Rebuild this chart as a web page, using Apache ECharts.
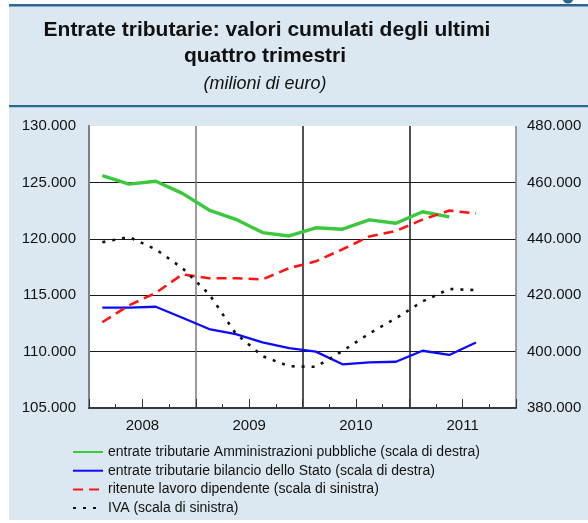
<!DOCTYPE html>
<html>
<head>
<meta charset="utf-8">
<script src="https://cdn.jsdelivr.net/npm/echarts@6/dist/echarts.min.js"></script>
<style>
  html, body { margin: 0; padding: 0; background: #ffffff; }
  #chart { width: 588px; height: 523px; }
</style>
</head>
<body>
<div id="chart"></div>
<script>
// Quarterly observations, 2008 T1 onwards (millions of euro, 4-quarter cumulated)
const quarters = ['2008 T1','2008 T2','2008 T3','2008 T4','2009 T1','2009 T2','2009 T3','2009 T4',
                  '2010 T1','2010 T2','2010 T3','2010 T4','2011 T1','2011 T2','2011 T3'];
const years = ['2008', '2009', '2010', '2011'];

// right-hand scale
const entrateAP = [462400, 459400, 460400, 456100, 450200, 446900, 442200, 441000,
                   443900, 443400, 446700, 445500, 449600, 447800];
const entrateStato = [415600, 415600, 415900, 412000, 408000, 406200, 403300, 401200,
                      400000, 395500, 396200, 396400, 400300, 398800, 403200];
// left-hand scale
const ritenute = [112600, 114100, 115200, 116850, 116500, 116500, 116400, 117400,
                  118000, 119070, 120200, 120700, 121700, 122500, 122250];
const iva = [119700, 120150, 119070, 117400, 115100, 111600, 109600, 108700,
             108650, 110050, 111600, 112950, 114450, 115550, 115450];

const seriesNames = [
  'entrate tributarie Amministrazioni pubbliche (scala di destra)',
  'entrate tributarie bilancio dello Stato (scala di destra)',
  'ritenute lavoro dipendente (scala di sinistra)',
  'IVA (scala di sinistra)'
];

const FONT = "'Liberation Sans', Arial, Helvetica, sans-serif";
const PANEL = '#dce8f1';
const RULE = '#2c6790';

// place each quarter in the middle of its slot on a 0..16 quarter scale
const toPoints = arr => arr.map((v, i) => [i + 0.5, v]);
const thousands = v => String(v).replace(/\B(?=(\d{3})+(?!\d))/g, '.');

const chart = echarts.init(document.getElementById('chart'), null, { renderer: 'canvas' });

const option = {
  animation: false,
  textStyle: { fontFamily: FONT },
  graphic: [
    // header band and lower panel
    { type: 'rect', z: -10, silent: true, shape: { x: 9, y: 5, width: 579, height: 101 }, style: { fill: PANEL } },
    { type: 'rect', z: -10, silent: true, shape: { x: 9, y: 107, width: 579, height: 413 }, style: { fill: PANEL } },
    { type: 'rect', z: -9, silent: true, shape: { x: 9, y: 4, width: 579, height: 2.5 }, style: { fill: RULE } },
    { type: 'rect', z: -9, silent: true, shape: { x: 9, y: 105, width: 579, height: 2.2 }, style: { fill: RULE } },
    { type: 'circle', z: -9, silent: true, shape: { cx: 568, cy: -2, r: 5.5 }, style: { fill: RULE } },
    // title
    { type: 'text', z: 10, silent: true, x: 267, y: 30,
      style: { text: 'Entrate tributarie: valori cumulati degli ultimi', font: 'bold 21px ' + FONT,
               fill: '#111', align: 'center', verticalAlign: 'middle' } },
    { type: 'text', z: 10, silent: true, x: 265, y: 56,
      style: { text: 'quattro trimestri', font: 'bold 21px ' + FONT,
               fill: '#111', align: 'center', verticalAlign: 'middle' } },
    { type: 'text', z: 10, silent: true, x: 265, y: 84,
      style: { text: '(milioni di euro)', font: 'italic 18px ' + FONT,
               fill: '#111', align: 'center', verticalAlign: 'middle' } }
  ],
  grid: {
    left: 89, right: 72, top: 126, bottom: 115,
    show: true, backgroundColor: '#ffffff', borderWidth: 0
  },
  legend: {
    orient: 'vertical', left: 72, top: 445, height: 120, padding: 0,
    itemWidth: 30, itemHeight: 14, itemGap: 4.7,
    itemStyle: { opacity: 0 },
    textStyle: { fontSize: 14, color: '#111', fontFamily: FONT },
    data: seriesNames
  },
  xAxis: [
    { // quarter ticks + baseline
      type: 'value', min: 0, max: 16, interval: 1, position: 'bottom',
      axisLine: { show: true, onZero: false, lineStyle: { color: '#3a3a3a', width: 2 } },
      axisTick: { show: true, inside: true, length: 4, lineStyle: { color: '#333', width: 1 } },
      axisLabel: { show: false }, splitLine: { show: false }
    },
    { // mid-year ticks and year labels
      type: 'value', min: 0, max: 16, interval: 2, position: 'bottom',
      axisLine: { show: false },
      axisTick: { show: true, inside: true, length: 9, lineStyle: { color: '#333', width: 1 } },
      axisLabel: {
        show: true, margin: 10, fontSize: 15, color: '#111', fontFamily: FONT,
        formatter: v => (v % 4 === 2 ? years[(v - 2) / 4] : '')
      },
      splitLine: { show: false }
    },
    { // year separators
      type: 'value', min: 0, max: 16, interval: 4, position: 'bottom',
      axisLine: { show: false }, axisTick: { show: false }, axisLabel: { show: false },
      splitLine: { show: true, lineStyle: { color: ['#808080', '#7a7a7a', '#1a1a1a', '#1a1a1a', '#808080'], width: 1.5 } }
    }
  ],
  yAxis: [
    {
      type: 'value', position: 'left', min: 105000, max: 130000, interval: 5000,
      axisLine: { show: true, lineStyle: { color: '#808080', width: 2 } },
      axisTick: { show: false },
      axisLabel: { margin: 13, fontSize: 15, color: '#111', fontFamily: FONT, formatter: thousands },
      splitLine: { show: true, lineStyle: { color: ['#3a3a3a', '#1a1a1a', '#1a1a1a', '#1a1a1a', '#1a1a1a', 'rgba(0,0,0,0)'], width: 1 } }
    },
    {
      type: 'value', position: 'right', min: 380000, max: 480000, interval: 20000,
      axisLine: { show: true, lineStyle: { color: '#808080', width: 2 } },
      axisTick: { show: false },
      axisLabel: { margin: 11, fontSize: 15, color: '#111', fontFamily: FONT, formatter: thousands },
      splitLine: { show: false }
    }
  ],
  series: [
    {
      name: seriesNames[0], type: 'line', xAxisIndex: 0, yAxisIndex: 1,
      data: toPoints(entrateAP), symbol: 'none', z: 3,
      lineStyle: { color: '#3cc83c', width: 3.4 }, itemStyle: { color: '#3cc83c' }
    },
    {
      name: seriesNames[1], type: 'line', xAxisIndex: 0, yAxisIndex: 1,
      data: toPoints(entrateStato), symbol: 'none', z: 4,
      lineStyle: { color: '#0a0aff', width: 2.3 }, itemStyle: { color: '#0a0aff' }
    },
    {
      name: seriesNames[2], type: 'line', xAxisIndex: 0, yAxisIndex: 0,
      data: toPoints(ritenute), symbol: 'none', z: 5,
      lineStyle: { color: '#ff1414', width: 2.6, type: [10, 6] }, itemStyle: { color: '#ff1414' }
    },
    {
      name: seriesNames[3], type: 'line', xAxisIndex: 0, yAxisIndex: 0,
      data: toPoints(iva), symbol: 'none', z: 6,
      lineStyle: { color: '#111111', width: 2.6, type: [3, 7] }, itemStyle: { color: '#111111' }
    }
  ]
};

chart.setOption(option);
</script>
</body>
</html>
